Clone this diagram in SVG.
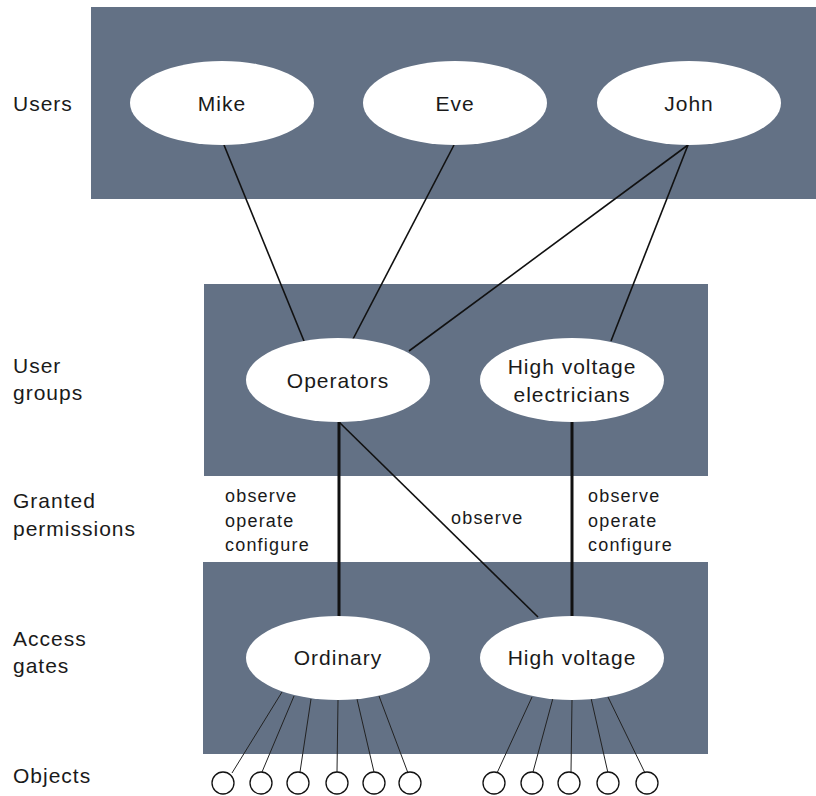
<svg xmlns="http://www.w3.org/2000/svg" width="816" height="796" viewBox="0 0 816 796">
<style>
.band{fill:#637185}
.node ellipse{fill:#fff}
.obj circle{fill:#fff;stroke:#111;stroke-width:1.3}
text{font-family:"Liberation Sans",Arial,sans-serif;fill:#1a1a1a}
.nl{font-size:21px;letter-spacing:1px;text-anchor:middle}
.side{font-size:21px;letter-spacing:1px}
.perm{font-size:18px;letter-spacing:1.2px}
.thin{stroke:#111;stroke-width:1.6;fill:none}
.thick{stroke:#111;stroke-width:3;fill:none}
.obl{stroke:#222;stroke-width:1;fill:none}
</style>
<rect width="816" height="796" fill="#fff"/>
<g id="bands">
<rect class="band" x="91" y="7" width="725" height="192"/>
<rect class="band" x="204" y="284" width="504" height="192"/>
<rect class="band" x="203" y="562" width="505" height="192"/>
</g>
<g id="side-labels">
<text class="side" x="13" y="111">Users</text>
<text class="side" x="13" y="373">User</text>
<text class="side" x="13" y="400">groups</text>
<text class="side" x="13" y="508">Granted</text>
<text class="side" x="13" y="536">permissions</text>
<text class="side" x="13" y="646">Access</text>
<text class="side" x="13" y="673">gates</text>
<text class="side" x="13" y="783">Objects</text>
</g>
<g id="connectors">
<line class="thin" x1="224" y1="145" x2="304" y2="341"/>
<line class="thin" x1="454" y1="145" x2="352" y2="341"/>
<line class="thin" x1="688" y1="145" x2="409" y2="351" stroke-width="2"/>
<line class="thin" x1="688" y1="145" x2="611" y2="341"/>
<line class="thick" x1="339" y1="422" x2="339" y2="617"/>
<line class="thin" x1="339" y1="422" x2="538" y2="617" stroke-width="1.8"/>
<line class="thick" x1="572" y1="422" x2="572" y2="617"/>
<line class="obl" x1="282" y1="692" x2="232" y2="773"/>
<line class="obl" x1="294" y1="696" x2="262" y2="772"/>
<line class="obl" x1="311" y1="699" x2="300" y2="772"/>
<line class="obl" x1="338" y1="700" x2="337" y2="772"/>
<line class="obl" x1="357" y1="699" x2="374" y2="772"/>
<line class="obl" x1="379" y1="696" x2="408" y2="773"/>
<line class="obl" x1="532" y1="697" x2="497" y2="773"/>
<line class="obl" x1="553" y1="698" x2="533" y2="772"/>
<line class="obl" x1="572" y1="700" x2="571" y2="772"/>
<line class="obl" x1="591" y1="698" x2="608" y2="773"/>
<line class="obl" x1="608" y1="697" x2="645" y2="773"/>
</g>
<g id="perm-labels">
<text class="perm" x="225" y="502">observe</text>
<text class="perm" x="225" y="527">operate</text>
<text class="perm" x="225" y="551">configure</text>
<text class="perm" x="451" y="524">observe</text>
<text class="perm" x="588" y="502">observe</text>
<text class="perm" x="588" y="527">operate</text>
<text class="perm" x="588" y="551">configure</text>
</g>
<g id="mike" class="node"><ellipse cx="222" cy="103" rx="92" ry="42"/><text class="nl" x="222" y="111">Mike</text></g>
<g id="eve" class="node"><ellipse cx="455" cy="103" rx="92" ry="42"/><text class="nl" x="455" y="111">Eve</text></g>
<g id="john" class="node"><ellipse cx="689" cy="103" rx="92" ry="42"/><text class="nl" x="689" y="111">John</text></g>
<g id="operators" class="node"><ellipse cx="338" cy="380" rx="92" ry="42"/><text class="nl" x="338" y="388">Operators</text></g>
<g id="hv-electricians" class="node"><ellipse cx="572" cy="380" rx="92" ry="42"/><text class="nl" x="572" y="374">High voltage</text><text class="nl" x="572" y="402">electricians</text></g>
<g id="ordinary" class="node"><ellipse cx="338" cy="658" rx="92" ry="42"/><text class="nl" x="338" y="665">Ordinary</text></g>
<g id="high-voltage" class="node"><ellipse cx="572" cy="658" rx="92" ry="42"/><text class="nl" x="572" y="665">High voltage</text></g>
<g id="objects" class="obj">
<circle cx="223" cy="783" r="11"/>
<circle cx="261" cy="783" r="11"/>
<circle cx="298" cy="783" r="11"/>
<circle cx="337" cy="783" r="11"/>
<circle cx="374" cy="783" r="11"/>
<circle cx="410" cy="783" r="11"/>
<circle cx="494" cy="783" r="11"/>
<circle cx="532" cy="783" r="11"/>
<circle cx="569" cy="783" r="11"/>
<circle cx="608" cy="783" r="11"/>
<circle cx="647" cy="783" r="11"/>
</g>
</svg>
